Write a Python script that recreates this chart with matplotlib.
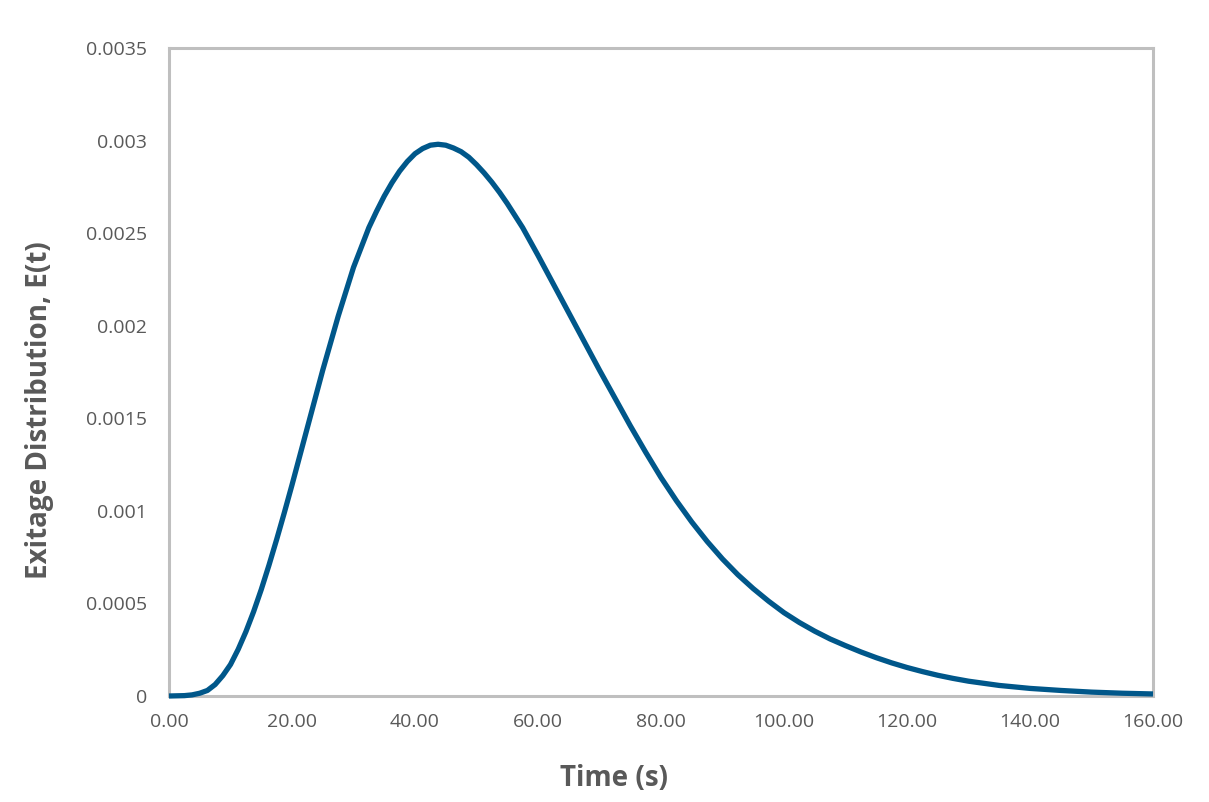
import matplotlib
matplotlib.use("Agg")
import matplotlib.pyplot as plt
from matplotlib.ticker import FixedLocator, FixedFormatter

# Data
time_s = [0, 2.5, 3.75, 5, 6.25, 7.5, 8.75, 10, 11.25, 12.5, 13.75, 15,
          16.25, 17.5, 18.75, 20, 21.25, 22.5, 25, 27.5, 30, 32.5, 33.75,
          35, 36.25, 37.5, 38.75, 40, 41.25, 42.5, 43.75, 45, 46.25, 47.5,
          48.75, 50, 51.25, 52.5, 53.75, 55, 57.5, 60, 62.5, 65, 67.5, 70,
          72.5, 75, 77.5, 80, 82.5, 85, 87.5, 90, 92.5, 95, 97.5, 100, 102.5,
          105, 107.5, 110, 112.5, 115, 117.5, 120, 122.5, 125, 127.5, 130,
          135, 140, 145, 150, 155, 160]
e_t = [0.0, 0.000002, 0.000006, 0.000015, 0.00003, 0.000062, 0.00011,
       0.00017, 0.000252, 0.000347, 0.000455, 0.000575,
       0.000706, 0.000845, 0.00099, 0.00114, 0.001295, 0.00145, 0.00176,
       0.00205, 0.002315, 0.00253, 0.002618,
       0.0027, 0.002772, 0.002835, 0.002887, 0.002929, 0.002957, 0.002975,
       0.00298, 0.002975, 0.00296, 0.00294,
       0.00291, 0.00287, 0.002825, 0.002775, 0.00272, 0.00266,
       0.00253, 0.00238, 0.002225, 0.00207, 0.001915, 0.00176,
       0.00161, 0.00146, 0.001317, 0.00118, 0.001055, 0.00094, 0.000835,
       0.00074, 0.000655, 0.00058, 0.000512, 0.00045, 0.000397,
       0.00035, 0.000308, 0.000272, 0.000238, 0.000207, 0.000179,
       0.000154, 0.000132, 0.000112, 0.000095, 0.00008,
       0.000057, 0.000041, 0.00003, 0.000021, 0.000015, 0.000011]

x_ticks = [0, 20, 40, 60, 80, 100, 120, 140, 160]
x_tick_labels = ["0.00", "20.00", "40.00", "60.00", "80.00", "100.00",
                 "120.00", "140.00", "160.00"]
y_ticks = [0, 0.0005, 0.001, 0.0015, 0.002, 0.0025, 0.003, 0.0035]
y_tick_labels = ["0", "0.0005", "0.001", "0.0015", "0.002", "0.0025",
                 "0.003", "0.0035"]

x_label = "Time (s)"
y_label = "Exitage Distribution, E(t)"

plt.rcParams['font.family'] = ['Open Sans', 'DejaVu Sans']

W, H = 1209, 802
fig = plt.figure(figsize=(W / 100, H / 100), dpi=100)
fig.patch.set_facecolor('white')
ax = fig.add_axes([169 / W, 1 - 696 / H, (1153 - 169) / W, (696 - 48) / H])

ax.plot(time_s, e_t, color='#00578A', linewidth=3.8, solid_capstyle='butt',
        solid_joinstyle='round', antialiased=True, zorder=5, clip_on=False)

ax.set_xlim(0, 160)
ax.set_ylim(0, 0.0035)
ax.xaxis.set_major_locator(FixedLocator(x_ticks))
ax.xaxis.set_major_formatter(FixedFormatter(x_tick_labels))
ax.yaxis.set_major_locator(FixedLocator(y_ticks))
ax.yaxis.set_major_formatter(FixedFormatter(y_tick_labels))

ax.tick_params(axis='both', length=0, labelsize=14, labelcolor='#595959')
ax.tick_params(axis='x', pad=12)
ax.tick_params(axis='y', pad=16)

for sp in ax.spines.values():
    sp.set_color('#BFBFBF')
    sp.set_linewidth(2.2)
    sp.set_zorder(2)

fig.text(614 / W, 1 - 778 / H, x_label, ha='center', va='center',
         fontsize=20, fontweight='bold', color='#595959')
fig.text(40 / W, 1 - 410 / H, y_label, ha='center', va='center',
         rotation=90, fontsize=20, fontweight='bold', color='#595959')

fig.savefig('out.png', dpi=100, facecolor='white')
